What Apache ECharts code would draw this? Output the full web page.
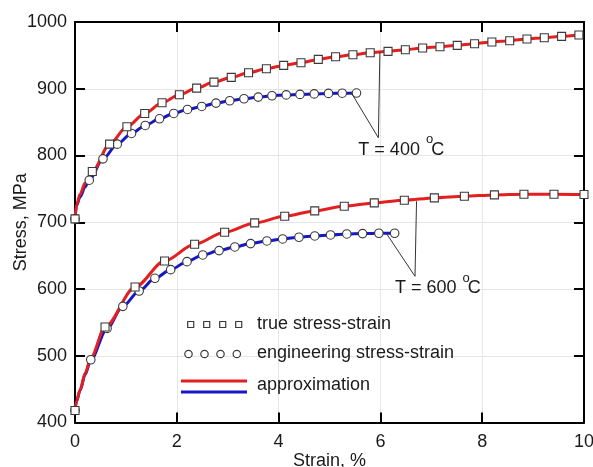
<!DOCTYPE html>
<html>
<head>
<meta charset="utf-8">
<script src="https://cdn.jsdelivr.net/npm/echarts@6/dist/echarts.min.js"></script>
<style>
  html, body { margin: 0; padding: 0; background: #ffffff; }
  #chart { width: 593px; height: 467px; }
</style>
</head>
<body>
<div id="chart"></div>
<script>
// ---- Measured data: strain (%) and stress (MPa) ----
// T = 400 °C, true stress-strain
const strain400True = [0, 0.34, 0.68, 1.02, 1.37, 1.71, 2.05, 2.39, 2.73, 3.07,
  3.41, 3.76, 4.10, 4.44, 4.78, 5.12, 5.46, 5.80, 6.15, 6.49,
  6.83, 7.17, 7.51, 7.85, 8.19, 8.54, 8.88, 9.22, 9.56, 9.90];
const stress400True = [705, 776, 817, 843, 863, 879, 891, 901, 910, 917,
  924, 930, 935, 939, 944, 948, 951, 954, 956, 958.5,
  961, 963, 965, 967.5, 970, 972, 974.5, 976.5, 978.5, 980.5];

// T = 400 °C, engineering stress-strain
const strain400Eng = [0, 0.28, 0.55, 0.83, 1.11, 1.38, 1.66, 1.94, 2.21, 2.49,
  2.77, 3.04, 3.32, 3.60, 3.87, 4.15, 4.42, 4.70, 4.98, 5.25, 5.53];
const stress400Eng = [705, 763, 795, 817, 833, 845, 855, 863, 869, 873.5,
  878.5, 882, 885, 887.5, 889.5, 890.8, 891.5, 892.3, 893, 893.3, 893.6];

// T = 600 °C, true stress-strain
const strain600True = [0, 0.59, 1.18, 1.76, 2.35, 2.94, 3.53, 4.12, 4.71, 5.29,
  5.88, 6.47, 7.06, 7.65, 8.24, 8.82, 9.41, 10.0];
const stress600True = [418, 543, 603, 642, 667, 685, 699, 709, 717, 724,
  729, 733, 736.5, 739, 741, 742, 742, 741.5];

// T = 600 °C, engineering stress-strain
const strain600Eng = [0, 0.31, 0.63, 0.94, 1.26, 1.57, 1.88, 2.20, 2.51, 2.83,
  3.14, 3.45, 3.77, 4.08, 4.40, 4.71, 5.02, 5.34, 5.65, 5.97, 6.28];
const stress600Eng = [418, 494, 541, 574, 597, 616, 629, 641, 651, 657.5,
  663, 668, 672, 675, 677.5, 679.5, 681, 682.5, 683, 683.5, 683.5];

// Approximation curves: extra points on the steep initial rise [strain, stress]
const fitHead400True = [[0.03, 726], [0.1, 742], [0.2, 759]];
const fitHead400Eng  = [[0.03, 725], [0.1, 738], [0.2, 753]];
const fitHead600True = [[0.03, 432], [0.1, 449], [0.2, 474], [0.31, 497]];
const fitHead600Eng  = [[0.03, 432], [0.1, 448], [0.2, 472]];

// Axis ticks
const xTicks = { min: 0, max: 10, step: 2 };
const yTicks = { min: 400, max: 1000, step: 100 };

// Temperature callouts: [curve end A, vertex, curve end B] in data units
const callout400 = [[5.42, 895], [5.96, 826.5], [5.99, 955]];
const callout600 = [[6.12, 683], [6.68, 619], [6.71, 731.5]];
const calloutText = ['T = 400 ', 'T = 600 '];

// Legend text
const legendText = ['true stress-strain', 'engineering stress-strain', 'approximation'];

// ---- Styling ----
const FONT = '"Liberation Sans", Arial, sans-serif';
const RED = '#e3201f';
const BLUE = '#1717c8';
const INK = '#1a1a1a';
const MARK_EDGE = '#3a3a3a';

function pairs(xs, ys) { return xs.map((x, i) => [x, ys[i]]); }
function fitCurve(xs, ys, head) {
  const pts = pairs(xs, ys);
  return [pts[0]].concat(head, pts.slice(1));
}

const chart = echarts.init(document.getElementById('chart'), null, { renderer: 'canvas' });

const axisLineStyle = { show: true, onZero: false, lineStyle: { color: '#000', width: 2 } };
const tickStyle = { show: true, inside: true, length: 10, lineStyle: { color: '#000', width: 2 } };

function lineSeries(data, color) {
  return {
    type: 'line', data: data, smooth: 0.3, smoothMonotone: 'x',
    showSymbol: false, symbol: 'none', silent: true,
    lineStyle: { color: color, width: 3 }, z: 2
  };
}
function markSeries(xs, ys, symbol, size) {
  return {
    type: 'scatter', data: pairs(xs, ys), symbol: symbol, symbolSize: size, silent: true,
    itemStyle: { color: '#ffffff', borderColor: MARK_EDGE, borderWidth: 1.1, opacity: 1 }, z: 3
  };
}
function calloutSeries(pts) {
  return {
    type: 'line', data: pts, showSymbol: false, symbol: 'none', silent: true,
    lineStyle: { color: '#333', width: 1 }, z: 4
  };
}

const option = {
  animation: false,
  backgroundColor: '#ffffff',
  textStyle: { fontFamily: FONT },
  grid: { left: 75, right: 9, top: 22, bottom: 44.5, containLabel: false, outerBoundsMode: 'none' },
  xAxis: [
    {
      type: 'value', min: xTicks.min, max: xTicks.max, interval: xTicks.step, position: 'bottom',
      axisLine: axisLineStyle, axisTick: tickStyle,
      axisLabel: { fontSize: 18, color: INK, margin: 11, fontFamily: FONT, formatter: v => String(v) },
      splitLine: { show: true, lineStyle: { color: '#e6e6e6', width: 1 } },
      name: 'Strain, %', nameLocation: 'middle', nameGap: 30, nameMoveOverlap: false,
      nameTextStyle: { fontSize: 18, color: INK, fontFamily: FONT }
    },
    {
      type: 'value', min: xTicks.min, max: xTicks.max, interval: xTicks.step, position: 'top',
      axisLine: axisLineStyle, axisTick: tickStyle, axisLabel: { show: false }, splitLine: { show: false }
    }
  ],
  yAxis: [
    {
      type: 'value', min: yTicks.min, max: yTicks.max, interval: yTicks.step, position: 'left',
      axisLine: axisLineStyle, axisTick: tickStyle,
      axisLabel: { fontSize: 18, color: INK, margin: 8, fontFamily: FONT, formatter: v => String(v) },
      splitLine: { show: true, lineStyle: { color: '#e6e6e6', width: 1 } },
      name: 'Stress, MPa', nameLocation: 'middle', nameGap: 45, nameMoveOverlap: false,
      nameTextStyle: { fontSize: 18, color: INK, fontFamily: FONT }
    },
    {
      type: 'value', min: yTicks.min, max: yTicks.max, interval: yTicks.step, position: 'right',
      axisLine: axisLineStyle, axisTick: tickStyle, axisLabel: { show: false }, splitLine: { show: false }
    }
  ],
  series: [
    lineSeries(fitCurve(strain400Eng, stress400Eng, fitHead400Eng), BLUE),
    lineSeries(fitCurve(strain600Eng, stress600Eng, fitHead600Eng), BLUE),
    lineSeries(fitCurve(strain400True, stress400True, fitHead400True), RED),
    lineSeries(fitCurve(strain600True, stress600True, fitHead600True), RED),
    markSeries(strain400Eng, stress400Eng, 'circle', 8.5),
    markSeries(strain600Eng, stress600Eng, 'circle', 8.5),
    markSeries(strain400True, stress400True, 'rect', 8),
    markSeries(strain600True, stress600True, 'rect', 8),
    calloutSeries(callout400),
    calloutSeries(callout600)
  ]
};
chart.setOption(option);

// ---- Callout labels and legend (drawn as graphic elements) ----
const measureCtx = document.createElement('canvas').getContext('2d');
function textWidth(str, size) {
  measureCtx.font = size + 'px ' + FONT;
  return measureCtx.measureText(str).width;
}

function calloutLabel(vertex, main) {
  const p = chart.convertToPixel({ gridIndex: 0 }, vertex);
  const w = textWidth(main, 18);
  const supW = textWidth('o', 13);
  const base = { fill: INK, verticalAlign: 'middle', align: 'left' };
  return {
    type: 'group', x: p[0] - 20, y: p[1] + 12, silent: true,
    children: [
      { type: 'text', x: 0, y: 0, style: Object.assign({ text: main, font: '18px ' + FONT }, base) },
      { type: 'text', x: w + 1, y: -10, style: Object.assign({ text: 'o', font: '13px ' + FONT }, base) },
      { type: 'text', x: w + supW - 1, y: 0, style: Object.assign({ text: 'C', font: '18px ' + FONT }, base) }
    ]
  };
}

const legendItems = [];
const sqX = [190.7, 206.7, 222.7, 238.7];
const ciX = [188.5, 204.5, 220.5, 236.8];
sqX.forEach(cx => legendItems.push({
  type: 'rect', shape: { x: cx - 3, y: 324.5 - 3, width: 6, height: 6 },
  style: { fill: '#fff', stroke: MARK_EDGE, lineWidth: 1.2 }, silent: true
}));
ciX.forEach(cx => legendItems.push({
  type: 'circle', shape: { cx: cx, cy: 354, r: 3.7 },
  style: { fill: '#fff', stroke: MARK_EDGE, lineWidth: 1.2 }, silent: true
}));
legendItems.push({ type: 'line', shape: { x1: 181, y1: 381, x2: 247, y2: 381 }, style: { stroke: RED, lineWidth: 3 }, silent: true });
legendItems.push({ type: 'line', shape: { x1: 181, y1: 392, x2: 247, y2: 392 }, style: { stroke: BLUE, lineWidth: 3 }, silent: true });
[324.5, 353.5, 385.5].forEach((y, i) => legendItems.push({
  type: 'text', x: 257, y: y, silent: true,
  style: { text: legendText[i], font: '18px ' + FONT, fill: INK, verticalAlign: 'middle', align: 'left' }
}));

chart.setOption({
  graphic: [
    calloutLabel(callout400[1], calloutText[0]),
    calloutLabel(callout600[1], calloutText[1])
  ].concat(legendItems)
});
</script>
</body>
</html>
